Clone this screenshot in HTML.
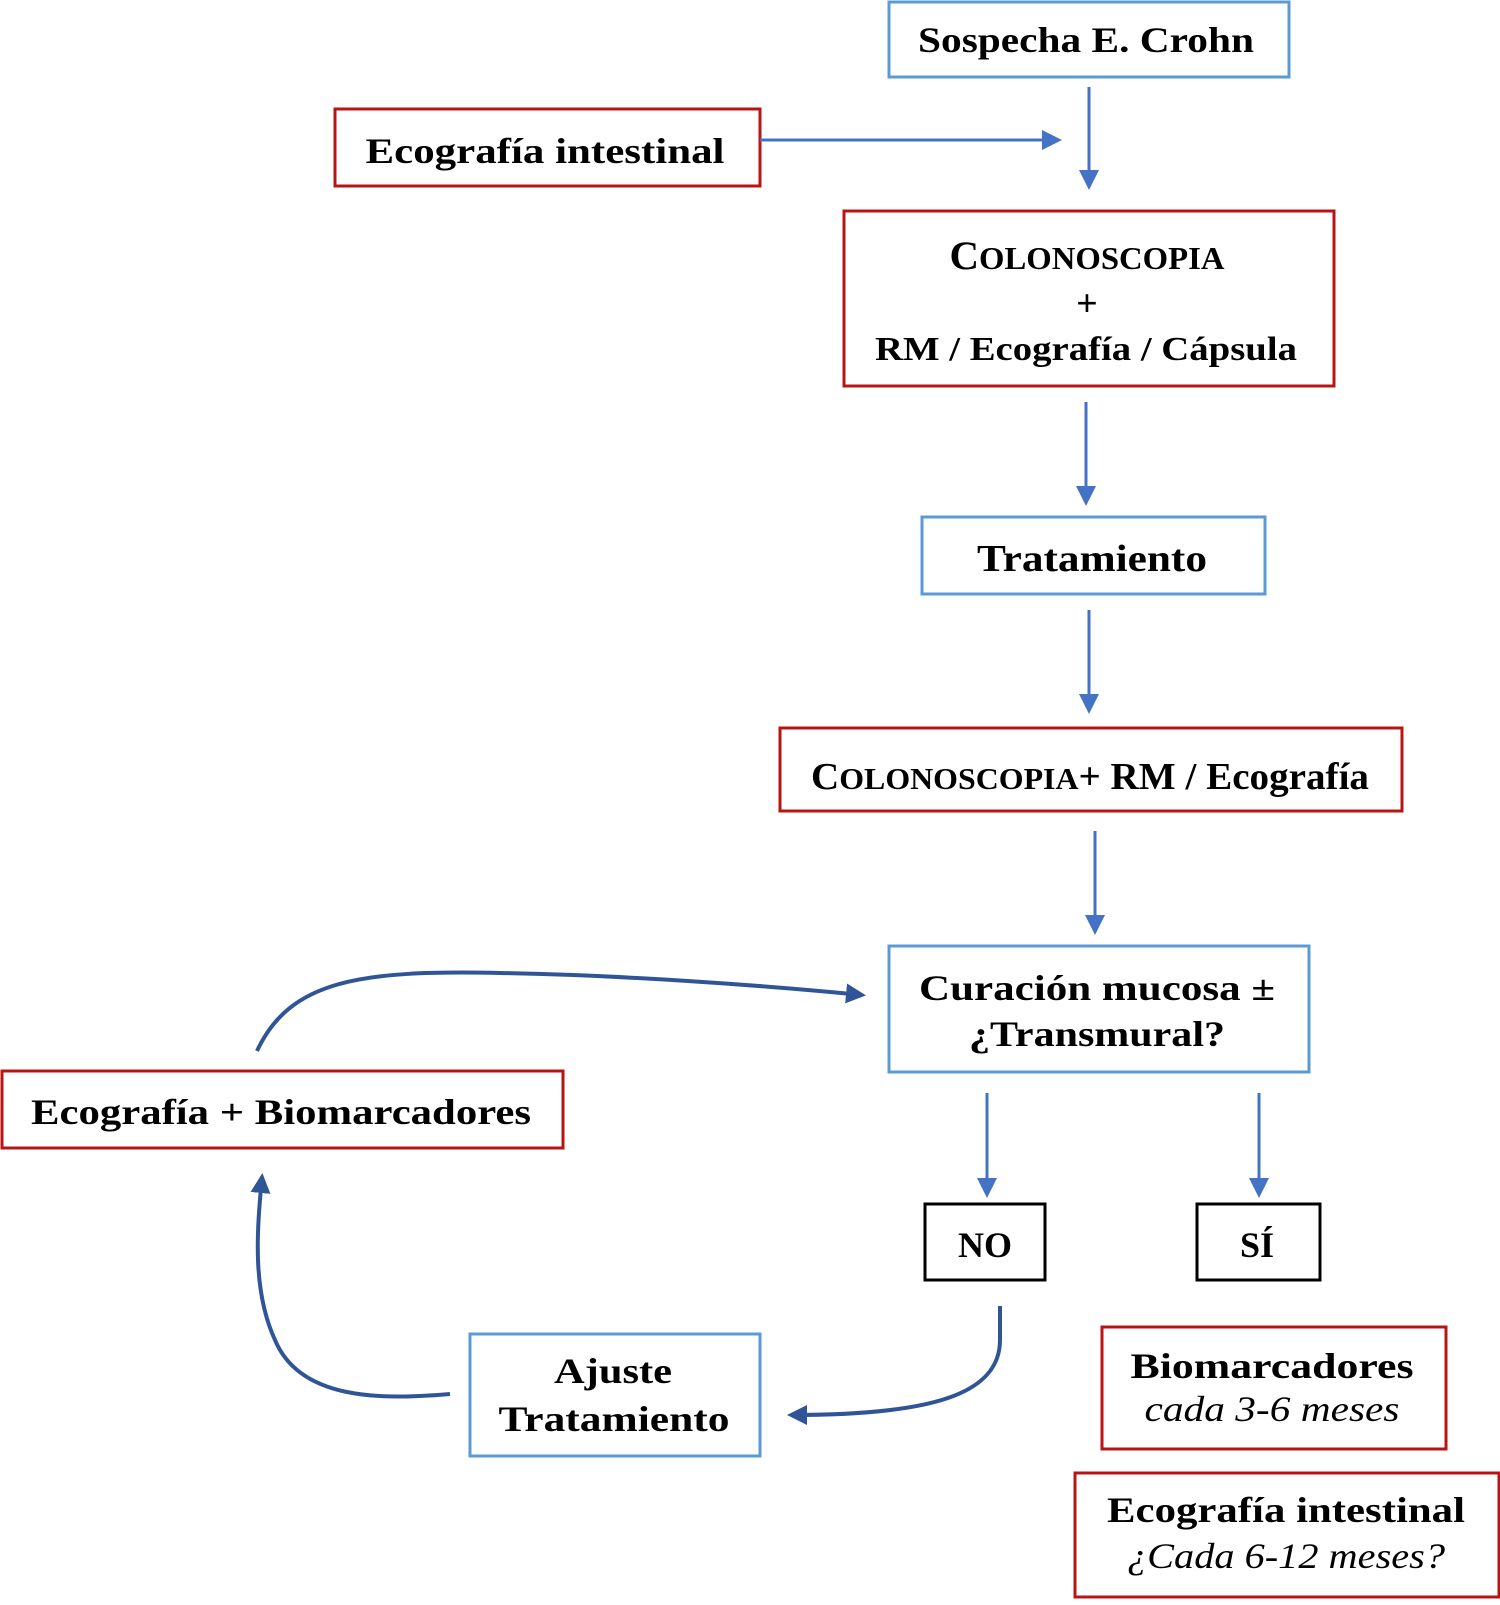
<!DOCTYPE html>
<html><head><meta charset="utf-8"><style>
html,body{margin:0;padding:0;background:#fff}
svg text{font-family:"Liberation Serif",serif;font-weight:bold;fill:#000}
</style></head><body>
<svg width="1500" height="1600" viewBox="0 0 1500 1600" xmlns="http://www.w3.org/2000/svg">
<defs>
<marker id="b" viewBox="0 0 10 10" refX="8" refY="5" markerWidth="20" markerHeight="20" orient="auto" markerUnits="userSpaceOnUse"><path d="M0,0 L10,5 L0,10 z" fill="#2f5597"/></marker>
<marker id="c" viewBox="0 0 10 10" refX="8" refY="5" markerWidth="20" markerHeight="20" orient="auto" markerUnits="userSpaceOnUse"><path d="M0,0 L10,5 L0,10 z" fill="#4472c4"/></marker>
</defs>
<g fill="none" stroke-width="3">
<rect x="889" y="2" width="400" height="75" stroke="#5b9bd5"/>
<rect x="335" y="109" width="425" height="77" stroke="#b81414"/>
<rect x="844" y="211" width="490" height="175" stroke="#b81414"/>
<rect x="922" y="517" width="343" height="77" stroke="#5b9bd5"/>
<rect x="780" y="728" width="622" height="83" stroke="#b81414"/>
<rect x="889" y="946" width="420" height="126" stroke="#5b9bd5"/>
<rect x="2" y="1071" width="561" height="77" stroke="#b81414"/>
<rect x="925" y="1204" width="120" height="76" stroke="#000"/>
<rect x="1197" y="1204" width="123" height="76" stroke="#000"/>
<rect x="1102" y="1327" width="344" height="122" stroke="#b81414"/>
<rect x="1075" y="1473" width="424" height="124" stroke="#b81414"/>
<rect x="470" y="1334" width="290" height="122" stroke="#5b9bd5"/>
</g>
<g stroke="#4472c4" stroke-width="3" fill="none" marker-end="url(#c)">
<line x1="1089" y1="87" x2="1089" y2="186"/>
<line x1="760" y1="140" x2="1058" y2="140"/>
<line x1="1086" y1="402" x2="1086" y2="502"/>
<line x1="1089" y1="610" x2="1089" y2="710"/>
<line x1="1095" y1="831" x2="1095" y2="931"/>
<line x1="987" y1="1093" x2="987" y2="1194"/>
<line x1="1259" y1="1093" x2="1259" y2="1194"/>
</g>
<g stroke="#2f5597" stroke-width="4" fill="none" marker-end="url(#b)">
<path d="M1000,1306 L1000,1340 C1000,1395 930,1415 791,1415"/>
<path d="M450,1394 C380,1400 300,1400 275,1340 C252,1290 257,1230 262,1177"/>
<path d="M257,1051 C290,980 360,970 500,973 C620,975 760,985 862,995"/>
</g>
<text x="1086" y="52" font-size="36" text-anchor="middle" textLength="336" lengthAdjust="spacingAndGlyphs">Sospecha E. Crohn</text>
<text x="545" y="163" font-size="36" text-anchor="middle" textLength="359" lengthAdjust="spacingAndGlyphs">Ecografía intestinal</text>
<text x="1087" y="269" font-size="40" text-anchor="middle" textLength="275" lengthAdjust="spacingAndGlyphs">C<tspan font-size="32">OLONOSCOPIA</tspan></text>
<text x="1087" y="316" font-size="38" text-anchor="middle">+</text>
<text x="1086" y="360" font-size="34" text-anchor="middle" textLength="422" lengthAdjust="spacingAndGlyphs">RM / Ecografía / Cápsula</text>
<text x="1092" y="571" font-size="38" text-anchor="middle" textLength="230" lengthAdjust="spacingAndGlyphs">Tratamiento</text>
<text x="1090" y="789" font-size="38" text-anchor="middle" textLength="558" lengthAdjust="spacingAndGlyphs">C<tspan font-size="31">OLONOSCOPIA</tspan>+ RM / Ecografía</text>
<text x="1097" y="1000" font-size="36" text-anchor="middle" textLength="356" lengthAdjust="spacingAndGlyphs">Curación mucosa ±</text>
<text x="1097" y="1046" font-size="36" text-anchor="middle" textLength="256" lengthAdjust="spacingAndGlyphs">¿Transmural?</text>
<text x="281" y="1124" font-size="36" text-anchor="middle" textLength="500" lengthAdjust="spacingAndGlyphs">Ecografía + Biomarcadores</text>
<text x="985" y="1257" font-size="36" text-anchor="middle">NO</text>
<text x="1257" y="1257" font-size="36" text-anchor="middle">SÍ</text>
<text x="1272" y="1378" font-size="36" text-anchor="middle" textLength="283" lengthAdjust="spacingAndGlyphs">Biomarcadores</text>
<text x="1272" y="1421" font-size="36" text-anchor="middle" textLength="255" lengthAdjust="spacingAndGlyphs" style="font-weight:normal;font-style:italic">cada 3-6 meses</text>
<text x="613" y="1383" font-size="36" text-anchor="middle" textLength="118" lengthAdjust="spacingAndGlyphs">Ajuste</text>
<text x="614" y="1431" font-size="36" text-anchor="middle" textLength="231" lengthAdjust="spacingAndGlyphs">Tratamiento</text>
<text x="1286" y="1522" font-size="36" text-anchor="middle" textLength="358" lengthAdjust="spacingAndGlyphs">Ecografía intestinal</text>
<text x="1286" y="1568" font-size="36" text-anchor="middle" textLength="318" lengthAdjust="spacingAndGlyphs" style="font-weight:normal;font-style:italic">¿Cada 6-12 meses?</text>
</svg>
</body></html>
